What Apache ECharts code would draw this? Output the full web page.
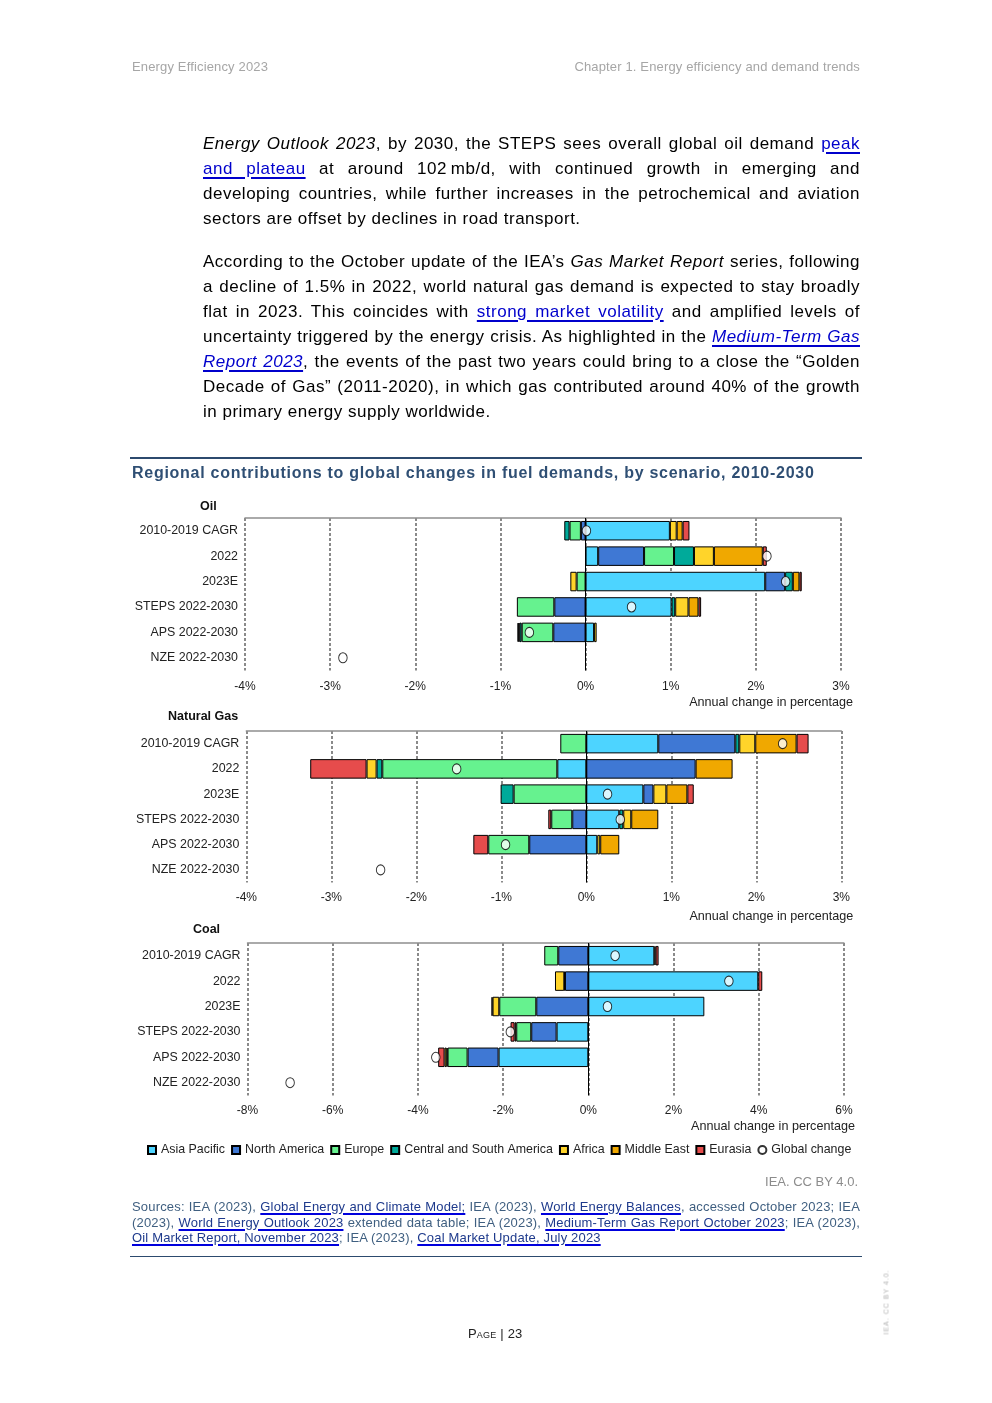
<!DOCTYPE html>
<html><head><meta charset="utf-8">
<script src="https://cdn.jsdelivr.net/npm/echarts@6/dist/echarts.min.js"></script>
<style>
html,body{margin:0;padding:0;background:#fff;}
body{width:992px;height:1403px;position:relative;overflow:hidden;font-family:"Liberation Sans",Arial,sans-serif;}
#chart{position:absolute;left:0;top:0;width:992px;height:1403px;z-index:1;}
.abs{position:absolute;white-space:nowrap;z-index:2;}
.hdr{font-size:13px;color:#a6a6a6;top:59px;line-height:16px;letter-spacing:0.15px;}
.para{position:absolute;left:203px;width:657px;font-size:17px;color:#000;z-index:2;letter-spacing:0.5px;}
.ln{height:25.1px;line-height:25.1px;white-space:nowrap;}
.para a{color:#0000cc;text-decoration:underline;text-decoration-thickness:2px;text-underline-offset:3px;}
.src{position:absolute;left:132px;width:728px;font-size:13px;color:#3f5f80;z-index:2;letter-spacing:0.17px;}
.src .ln{height:15.5px;line-height:15.5px;}
.src a{color:#1e3a8c;text-decoration:underline;text-decoration-color:#0000dd;text-decoration-thickness:1.5px;text-underline-offset:2px;}
.rule{position:absolute;left:130px;width:732px;background:#2c4a6e;z-index:2;}
.ctitle{font-size:16px;font-weight:bold;color:#2f4f74;letter-spacing:0.73px;line-height:18px;}
</style></head>
<body>
<div class="abs hdr" style="left:132px;">Energy Efficiency 2023</div>
<div class="abs hdr" style="right:132px;">Chapter 1. Energy efficiency and demand trends</div>

<div class="para" style="top:130.5px;">
<div class="ln j"><span><i>Energy Outlook 2023</i>, by 2030, the STEPS sees overall global oil demand <a>peak</a></span></div>
<div class="ln j"><span><a>and plateau</a> at around 102&#8239;mb/d, with continued growth in emerging and</span></div>
<div class="ln j"><span>developing countries, while further increases in the petrochemical and aviation</span></div>
<div class="ln"><span>sectors are offset by declines in road transport.</span></div>
</div>

<div class="para" style="top:248.5px;">
<div class="ln j"><span>According to the October update of the IEA’s <i>Gas Market Report</i> series, following</span></div>
<div class="ln j"><span>a decline of 1.5% in 2022, world natural gas demand is expected to stay broadly</span></div>
<div class="ln j"><span>flat in 2023. This coincides with <a>strong market volatility</a> and amplified levels of</span></div>
<div class="ln j"><span>uncertainty triggered by the energy crisis. As highlighted in the <a><i>Medium-Term Gas</i></a></span></div>
<div class="ln j"><span><a><i>Report 2023</i></a>, the events of the past two years could bring to a close the “Golden</span></div>
<div class="ln j"><span>Decade of Gas” (2011-2020), in which gas contributed around 40% of the growth</span></div>
<div class="ln"><span>in primary energy supply worldwide.</span></div>
</div>

<div class="rule" style="top:457px;height:2px;"></div>
<div class="abs ctitle" style="left:132px;top:464px;">Regional contributions to global changes in fuel demands, by scenario, 2010-2030</div>

<div id="chart"></div>

<div class="abs" style="right:134px;top:1174px;font-size:13px;color:#8c8c8c;line-height:16px;">IEA. CC BY 4.0.</div>

<div class="src" style="top:1199px;">
<div class="ln j"><span>Sources: IEA (2023), <a>Global Energy and Climate Model;</a> IEA (2023), <a>World Energy Balances</a>, accessed October 2023; IEA</span></div>
<div class="ln j"><span>(2023), <a>World Energy Outlook 2023</a> extended data table; IEA (2023), <a>Medium-Term Gas Report October 2023</a>; IEA (2023),</span></div>
<div class="ln"><span><a>Oil Market Report, November 2023</a>; IEA (2023), <a>Coal Market Update, July 2023</a></span></div>
</div>

<div class="rule" style="top:1255.5px;height:1.5px;"></div>

<div class="abs" style="left:468px;top:1326px;font-size:13px;color:#222;line-height:16px;letter-spacing:0.2px;"><span style="font-variant:small-caps;">Page</span> | 23</div>
<div class="abs" style="left:886px;top:1302px;font-size:7px;color:#b0b0b0;letter-spacing:1px;transform:translate(-50%,-50%) rotate(-90deg);">IEA. CC BY 4.0.</div>

<script>
// ---------- data ----------
const categories = ['2010-2019 CAGR', '2022', '2023E', 'STEPS 2022-2030', 'APS 2022-2030', 'NZE 2022-2030'];
const regionNames = ['Asia Pacific', 'North America', 'Europe', 'Central and South America', 'Africa', 'Middle East', 'Eurasia'];
const globalName = 'Global change';

// Oil (annual change, %)
const oilAsiaPacific  = [0.99, 0.148, 2.11, 1.01, 0.10, null];
const oilNorthAmerica = [-0.055, 0.539, 0.234, -0.367, -0.379, null];
const oilEurope       = [-0.133, 0.352, -0.105, -0.44, -0.371, null];
const oilCSAmerica    = [-0.062, 0.234, 0.09, 0.043, -0.027, null];
const oilAfrica       = [0.08, 0.234, -0.074, 0.156, 0.03, null];
const oilMiddleEast   = [0.07, 0.574, 0.078, 0.117, -0.01, null];
const oilEurasia      = [0.08, 0.047, 0.027, 0.031, -0.012, null];
const oilGlobal       = [0.01, 2.13, 2.35, 0.54, -0.66, -2.85];

// Natural gas
const gasAsiaPacific  = [0.847, -0.341, 0.671, 0.388, 0.129, null];
const gasNorthAmerica = [0.906, 1.286, 0.118, -0.165, -0.671, null];
const gasEurope       = [-0.306, -2.059, -0.855, -0.247, -0.482, null];
const gasCSAmerica    = [0.047, -0.067, -0.153, 0.047, null, null];
const gasAfrica       = [0.188, -0.118, 0.153, 0.094, 0.035, null];
const gasMiddleEast   = [0.486, 0.435, 0.247, 0.318, 0.224, null];
const gasEurasia      = [0.141, -0.663, 0.075, -0.035, -0.176, null];
const gasGlobal       = [2.31, -1.525, 0.25, 0.40, -0.95, -2.42];

// Coal
const coalAsiaPacific  = [1.55, 3.99, 2.724, -0.744, -2.106, null];
const coalNorthAmerica = [-0.705, -0.548, -1.221, -0.595, -0.728, null];
const coalEurope       = [-0.329, null, -0.869, -0.352, -0.47, null];
const coalCSAmerica    = [null, -0.015, null, null, -0.02, null];
const coalAfrica       = [null, -0.219, -0.157, -0.04, -0.05, null];
const coalMiddleEast   = [0.03, null, null, null, null, null];
const coalEurasia      = [0.07, 0.094, -0.025, -0.094, -0.15, null];
const coalGlobal       = [0.63, 3.30, 0.45, -1.83, -3.58, -7.0];

// axis ranges [min, max, interval]
const oilAxis  = [-4, 3, 1];
const gasAxis  = [-4, 3, 1];
const coalAxis = [-8, 6, 2];

// ---------- styling ----------
const regionColors = ['#4DD4FF', '#3F78D4', '#66F28F', '#00AA9A', '#FFD42A', '#F0A800', '#E64C4C'];
const grids = [
  { left: 245, width: 596, top: 518, height: 152.5 },
  { left: 246.3, width: 595, top: 731, height: 151.5 },
  { left: 247.5, width: 596.4, top: 943, height: 152.4 }
];
const yLabelMargin = [7, 7, 7];
const xLabelMargin = [10, 9, 9];
const nameLabelPad = [26, 28, 25];
const nameGaps = [12, 12, 11];

const fuels = [
  { regions: [oilAsiaPacific, oilNorthAmerica, oilEurope, oilCSAmerica, oilAfrica, oilMiddleEast, oilEurasia], global: oilGlobal, axis: oilAxis },
  { regions: [gasAsiaPacific, gasNorthAmerica, gasEurope, gasCSAmerica, gasAfrica, gasMiddleEast, gasEurasia], global: gasGlobal, axis: gasAxis },
  { regions: [coalAsiaPacific, coalNorthAmerica, coalEurope, coalCSAmerica, coalAfrica, coalMiddleEast, coalEurasia], global: coalGlobal, axis: coalAxis }
];

const FONT = '"Liberation Sans", Arial, sans-serif';
const xAxes = [], yAxes = [], series = [];
fuels.forEach((f, i) => {
  xAxes.push({
    type: 'value', gridIndex: i, min: f.axis[0], max: f.axis[1], interval: f.axis[2],
    axisLine: { show: false }, axisTick: { show: false },
    axisLabel: { formatter: '{value}%', fontSize: 12, color: '#222', margin: xLabelMargin[i], fontFamily: FONT },
    splitLine: { show: true, showMinLine: true, showMaxLine: true, lineStyle: { color: '#8a8a8a', width: 2, type: [3, 2] } },
    name: 'Annual change in percentage', nameLocation: 'end', nameGap: nameGaps[i],
    nameTextStyle: { align: 'right', verticalAlign: 'top', padding: [nameLabelPad[i], 0, 0, 0], fontSize: 12.6, color: '#222', fontFamily: FONT }
  });
  xAxes.push({
    type: 'value', gridIndex: i, position: 'top', min: f.axis[0], max: f.axis[1], interval: f.axis[2],
    axisLine: { show: true, onZero: false, lineStyle: { color: '#8e8e8e', width: 1.5 } },
    axisTick: { show: false }, axisLabel: { show: false }, splitLine: { show: false }
  });
  yAxes.push({
    type: 'category', gridIndex: i, data: categories, inverse: true,
    axisLine: { show: false }, axisTick: { show: false }, splitLine: { show: false },
    axisLabel: { fontSize: 12.4, color: '#222', margin: yLabelMargin[i], fontFamily: FONT }
  });
  f.regions.forEach((d, r) => {
    series.push({
      name: regionNames[r], type: 'bar', stack: 'fuel' + i, xAxisIndex: i * 2, yAxisIndex: i,
      data: d, barWidth: 19.5, z: 2,
      itemStyle: { color: regionColors[r], borderColor: '#000', borderWidth: 1 },
      emphasis: { disabled: true }
    });
  });
  series.push({
    name: globalName, type: 'scatter', xAxisIndex: i * 2, yAxisIndex: i,
    data: f.global.map((v, k) => [v, categories[k]]),
    symbol: 'circle', symbolSize: [8.5, 10], z: 5,
    itemStyle: { color: '#fff', borderColor: '#000', borderWidth: 1 },
    emphasis: { disabled: true },
    markLine: {
      silent: true, symbol: 'none', label: { show: false }, z: 4,
      lineStyle: { color: '#000', width: 1, type: 'solid' },
      data: [{ xAxis: 0 }]
    }
  });
});

const chart = echarts.init(document.getElementById('chart'), null, { renderer: 'canvas' });
chart.setOption({
  animation: false,
  textStyle: { fontFamily: FONT },
  title: [
    { text: 'Oil', left: 200, top: 500.5, padding: 0, textStyle: { fontSize: 12.5, fontWeight: 'bold', color: '#111', fontFamily: FONT } },
    { text: 'Natural Gas', left: 168, top: 710.5, padding: 0, textStyle: { fontSize: 12.5, fontWeight: 'bold', color: '#111', fontFamily: FONT } },
    { text: 'Coal', left: 193, top: 923.5, padding: 0, textStyle: { fontSize: 12.5, fontWeight: 'bold', color: '#111', fontFamily: FONT } }
  ],
  legend: {
    left: 147, top: 1144, padding: 0, itemWidth: 8, itemHeight: 8, itemGap: 6, width: 800,
    selectedMode: false,
    textStyle: { fontSize: 12.4, color: '#222', fontFamily: FONT },
    data: regionNames.map(n => ({ name: n, icon: 'rect' })).concat([{ name: globalName, icon: 'circle' }])
  },
  grid: grids.map(g => Object.assign({ containLabel: false }, g)),
  xAxis: xAxes,
  yAxis: yAxes,
  series: series
});

// justify HTML text lines exactly to their column width
document.querySelectorAll('.ln.j').forEach(div => {
  const span = div.firstElementChild;
  const target = div.getBoundingClientRect().width;
  const w = span.getBoundingClientRect().width;
  const spaces = (span.textContent.match(/ /g) || []).length;
  if (spaces > 0) div.style.wordSpacing = ((target - w) / spaces) + 'px';
});
</script>
</body></html>
